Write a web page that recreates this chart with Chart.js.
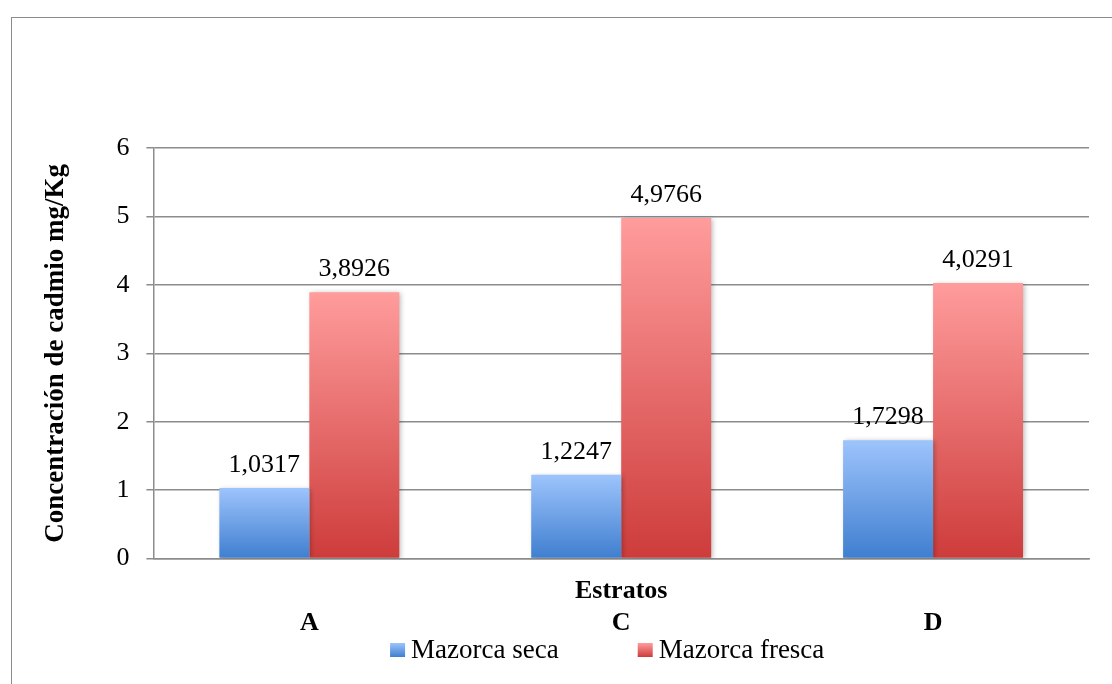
<!DOCTYPE html>
<html>
<head>
<meta charset="utf-8">
<script src="https://cdn.jsdelivr.net/npm/chart.js@4/dist/chart.umd.min.js"></script>
<style>
  html, body { margin: 0; padding: 0; background: #fff; overflow: hidden; }
  #wrap { position: relative; width: 1112px; height: 684px; }
  #frame { position: absolute; left: 11px; top: 17px; width: 1200px; height: 800px; border: 1.5px solid #8c8c8c; }
  canvas { position: absolute; left: 0; top: 0; }
</style>
</head>
<body>
<div id="wrap">
  <div id="frame"></div>
  <canvas id="chart" width="1112" height="684"></canvas>
</div>
<script>
// data
const estratos = ['A', 'C', 'D'];
const mazorcaSeca = [1.0317, 1.2247, 1.7298];
const mazorcaFresca = [3.8926, 4.9766, 4.0291];
const yTicks = [0, 1, 2, 3, 4, 5, 6];

const SERIF = "'Liberation Serif', 'Times New Roman', serif";
const GRID = '#8c8c8c';
const blueStops = ['#9dc4fc', '#3f7ecf'];
const redStops = ['#ff9c9c', '#cd3c3b'];

function barGradient(c, stops) {
  const chart = c.chart;
  if (!chart.chartArea || c.type !== 'data') return stops[1];
  const y = chart.scales.y;
  const top = y.getPixelForValue(c.raw);
  const bottom = y.getPixelForValue(0);
  const g = chart.ctx.createLinearGradient(0, top, 0, bottom);
  g.addColorStop(0, stops[0]);
  g.addColorStop(1, stops[1]);
  return g;
}

const fmt = v => v.toFixed(4).replace('.', ',');

// shadow under bars + value labels + legend
const decor = {
  id: 'decor',
  beforeDatasetDraw(chart) {
    const ctx = chart.ctx;
    ctx.save();
    ctx.shadowColor = 'rgba(0,0,0,0.28)';
    ctx.shadowBlur = 5;
    ctx.shadowOffsetX = 2;
    ctx.shadowOffsetY = 1;
  },
  afterDatasetDraw(chart) {
    chart.ctx.restore();
  },
  afterDatasetsDraw(chart) {
    const ctx = chart.ctx;
    ctx.save();
    ctx.font = '26px ' + SERIF;
    ctx.fillStyle = '#000';
    ctx.textAlign = 'center';
    ctx.textBaseline = 'alphabetic';
    chart.data.datasets.forEach((ds, i) => {
      chart.getDatasetMeta(i).data.forEach((bar, j) => {
        ctx.fillText(fmt(ds.data[j]), bar.x, bar.y - 16);
      });
    });

    // legend
    const stops = [blueStops, redStops];
    ctx.font = '27px ' + SERIF;
    ctx.textAlign = 'left';
    ctx.textBaseline = 'middle';
    const box = 15, gapText = 6, gapItem = 79;
    const widths = chart.data.datasets.map(ds => ctx.measureText(ds.label).width);
    const total = widths.reduce((a, w) => a + box + gapText + w, 0) + gapItem * (widths.length - 1);
    const ca = chart.chartArea;
    let x = (ca.left + ca.right) / 2 - 14 - total / 2;
    const yc = 650;
    chart.data.datasets.forEach((ds, i) => {
      const g = ctx.createLinearGradient(0, yc - 7, 0, yc + 7);
      g.addColorStop(0, stops[i][0]);
      g.addColorStop(1, stops[i][1]);
      ctx.fillStyle = g;
      ctx.fillRect(x, yc - 7, box, 14);
      ctx.fillStyle = '#000';
      ctx.fillText(ds.label, x + box + gapText, yc + 1);
      x += box + gapText + widths[i] + gapItem;
    });
    ctx.restore();
  }
};

new Chart(document.getElementById('chart'), {
  type: 'bar',
  data: {
    labels: estratos,
    datasets: [
      {
        label: 'Mazorca seca',
        data: mazorcaSeca,
        backgroundColor: c => barGradient(c, blueStops),
      },
      {
        label: 'Mazorca fresca',
        data: mazorcaFresca,
        backgroundColor: c => barGradient(c, redStops),
      },
    ],
  },
  options: {
    responsive: false,
    animation: false,
    categoryPercentage: 0.577,
    barPercentage: 1,
    layout: { padding: { top: 148, right: 23, bottom: 44, left: 40 } },
    plugins: {
      legend: { display: false },
      tooltip: { enabled: false },
    },
    scales: {
      x: {
        weight: 0,
        grid: { display: false, drawTicks: false },
        border: { display: true, color: GRID, width: 1.5 },
        ticks: { display: false },
        title: {
          display: true,
          text: 'Estratos',
          color: '#000',
          font: { family: SERIF, size: 26, weight: 'bold' },
          padding: { top: 17, bottom: 0 },
        },
      },
      x2: {
        type: 'category',
        labels: estratos,
        position: 'bottom',
        weight: 1,
        offset: true,
        grid: { display: false, drawTicks: false },
        border: { display: false },
        ticks: {
          color: '#000',
          padding: 1,
          font: { family: SERIF, size: 26, weight: 'bold' },
        },
      },
      y: {
        min: yTicks[0],
        max: yTicks[yTicks.length - 1],
        afterBuildTicks: axis => { axis.ticks = yTicks.map(v => ({ value: v })); },
        grid: { color: GRID, lineWidth: 1.5, tickLength: 7 },
        border: { display: true, color: GRID, width: 1.5 },
        ticks: {
          color: '#000',
          padding: 17,
          font: { family: SERIF, size: 26 },
        },
        title: {
          display: true,
          text: 'Concentración de cadmio mg/Kg',
          color: '#000',
          font: { family: SERIF, size: 27, weight: 'bold' },
          padding: { top: 0, bottom: 27 },
        },
      },
    },
  },
  plugins: [decor],
});
</script>
</body>
</html>
